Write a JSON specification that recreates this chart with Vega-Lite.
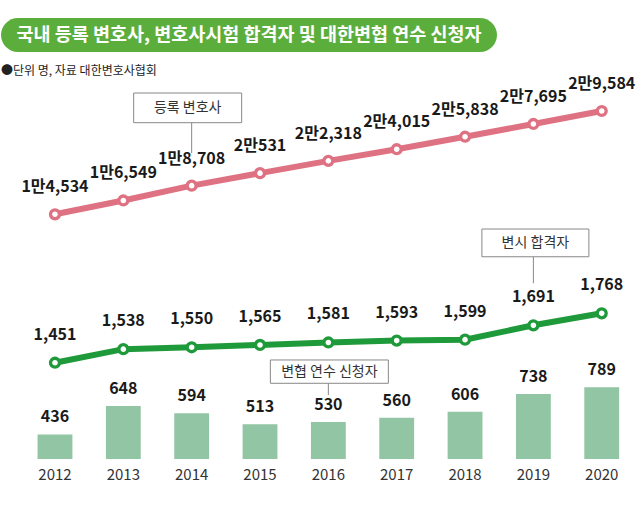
{
  "$schema": "https://vega.github.io/schema/vega-lite/v6.json",
  "padding": {"left": 1, "top": 18, "right": 3, "bottom": 0},
  "background": "white",
  "spacing": 13,
  "config": {"view": {"stroke": null}, "font": "Noto Sans CJK KR"},
  "vconcat": [
    {
      "width": 496,
      "height": 34,
      "data": {"values": [{"title": "국내 등록 변호사, 변호사시험 합격자 및 대한변협 연수 신청자"}]},
      "layer": [
        {"mark": {"type": "rect", "color": "#5CAE3C", "cornerRadius": 17}, "encoding": {}},
        {"mark": {"type": "text", "color": "white", "fontSize": 18.5, "fontWeight": "bold", "font": "Noto Sans CJK KR", "baseline": "middle"}, "encoding": {"text": {"field": "title"}}}
      ]
    },
    {
      "width": 636,
      "height": 379,
      "title": {"text": "●단위 명, 자료 대한변호사협회", "anchor": "start", "fontSize": 12, "fontWeight": "normal", "color": "#222", "offset": -2.5, "font": "Noto Sans CJK KR"},
      "data": {"values": [
        {"year": "2012", "lawyers": 14534, "lawyersLabel": "1만4,534", "passers": 1451, "trainees": 436},
        {"year": "2013", "lawyers": 16549, "lawyersLabel": "1만6,549", "passers": 1538, "trainees": 648},
        {"year": "2014", "lawyers": 18708, "lawyersLabel": "1만8,708", "passers": 1550, "trainees": 594},
        {"year": "2015", "lawyers": 20531, "lawyersLabel": "2만531", "passers": 1565, "trainees": 513},
        {"year": "2016", "lawyers": 22318, "lawyersLabel": "2만2,318", "passers": 1581, "trainees": 530},
        {"year": "2017", "lawyers": 24015, "lawyersLabel": "2만4,015", "passers": 1593, "trainees": 560},
        {"year": "2018", "lawyers": 25838, "lawyersLabel": "2만5,838", "passers": 1599, "trainees": 606},
        {"year": "2019", "lawyers": 27695, "lawyersLabel": "2만7,695", "passers": 1691, "trainees": 738},
        {"year": "2020", "lawyers": 29584, "lawyersLabel": "2만9,584", "passers": 1768, "trainees": 789}
      ]},
      "layer": [
        {
          "mark": {"type": "bar", "color": "#92C5A4"},
          "encoding": {
            "x": {"field": "year", "type": "ordinal", "scale": {"type": "band", "paddingInner": 0.49, "paddingOuter": 0.398, "align": 0.672},
                  "axis": {"title": null, "domain": false, "ticks": false, "labelAngle": 0, "labelFontSize": 15, "labelColor": "#333", "labelPadding": 8, "labelFont": "Noto Sans CJK KR", "labelFontWeight": "normal"}},
            "y": {"field": "trainees", "type": "quantitative", "scale": {"domain": [252.6, 3085], "zero": false}, "axis": null},
            "y2": {"datum": 252.6}
          }
        },
        {
          "mark": {"type": "text", "dy": -17, "fontSize": 16, "fontWeight": "bold", "color": "#1a1a1a", "baseline": "middle"},
          "encoding": {
            "x": {"field": "year", "type": "ordinal"},
            "y": {"field": "trainees", "type": "quantitative", "scale": {"domain": [252.6, 3085], "zero": false}, "axis": null},
            "text": {"field": "trainees", "type": "quantitative", "format": "d"}
          }
        },
        {
          "data": {"values": [{"year": "2016", "label": "변협 연수 신청자"}]},
          "mark": {"type": "rule", "color": "#888", "strokeWidth": 1},
          "encoding": {
            "x": {"field": "year", "type": "ordinal"},
            "y": {"datum": 818.4, "type": "quantitative", "scale": {"domain": [252.6, 3085], "zero": false}, "axis": null},
            "y2": {"datum": 730.9}
          }
        },
        {
          "data": {"values": [{"year": "2016", "label": "변협 연수 신청자"}]},
          "mark": {"type": "bar", "width": 118, "fill": "white", "stroke": "#888", "strokeWidth": 1, "xOffset": 1},
          "encoding": {
            "x": {"field": "year", "type": "ordinal"},
            "y": {"datum": 992.6, "type": "quantitative", "scale": {"domain": [252.6, 3085], "zero": false}, "axis": null},
            "y2": {"datum": 818.4}
          }
        },
        {
          "data": {"values": [{"year": "2016", "label": "변협 연수 신청자"}]},
          "mark": {"type": "text", "fontSize": 14, "color": "#333", "baseline": "middle", "xOffset": 1},
          "encoding": {
            "x": {"field": "year", "type": "ordinal"},
            "y": {"datum": 905, "type": "quantitative", "scale": {"domain": [252.6, 3085], "zero": false}, "axis": null},
            "text": {"field": "label"}
          }
        },
        {
          "mark": {"type": "line", "color": "#1F9A3B", "strokeWidth": 6},
          "encoding": {
            "x": {"field": "year", "type": "ordinal"},
            "y": {"field": "passers", "type": "quantitative", "scale": {"domain": [833, 3265.5], "zero": false}, "axis": null}
          }
        },
        {
          "mark": {"type": "circle", "fill": "white", "stroke": "#1F9A3B", "strokeWidth": 3.3, "size": 80, "opacity": 1},
          "encoding": {
            "x": {"field": "year", "type": "ordinal"},
            "y": {"field": "passers", "type": "quantitative", "scale": {"domain": [833, 3265.5], "zero": false}, "axis": null}
          }
        },
        {
          "mark": {"type": "text", "dy": -28, "fontSize": 16, "fontWeight": "bold", "color": "#1a1a1a", "baseline": "middle"},
          "encoding": {
            "x": {"field": "year", "type": "ordinal"},
            "y": {"field": "passers", "type": "quantitative", "scale": {"domain": [833, 3265.5], "zero": false}, "axis": null},
            "text": {"field": "passers", "type": "quantitative", "format": ","}
          }
        },
        {
          "data": {"values": [{"year": "2019", "label": "변시 합격자"}]},
          "mark": {"type": "rule", "color": "#888", "strokeWidth": 1},
          "encoding": {
            "x": {"field": "year", "type": "ordinal"},
            "y": {"datum": 2131, "type": "quantitative", "scale": {"domain": [833, 3265.5], "zero": false}, "axis": null},
            "y2": {"datum": 1960.6}
          }
        },
        {
          "data": {"values": [{"year": "2019", "label": "변시 합격자"}]},
          "mark": {"type": "bar", "width": 107, "fill": "white", "stroke": "#888", "strokeWidth": 1, "xOffset": 2},
          "encoding": {
            "x": {"field": "year", "type": "ordinal"},
            "y": {"datum": 2309, "type": "quantitative", "scale": {"domain": [833, 3265.5], "zero": false}, "axis": null},
            "y2": {"datum": 2131}
          }
        },
        {
          "data": {"values": [{"year": "2019", "label": "변시 합격자"}]},
          "mark": {"type": "text", "fontSize": 14, "color": "#333", "baseline": "middle", "xOffset": 2},
          "encoding": {
            "x": {"field": "year", "type": "ordinal"},
            "y": {"datum": 2219, "type": "quantitative", "scale": {"domain": [833, 3265.5], "zero": false}, "axis": null},
            "text": {"field": "label"}
          }
        },
        {
          "mark": {"type": "line", "color": "#DF7282", "strokeWidth": 6},
          "encoding": {
            "x": {"field": "year", "type": "ordinal"},
            "y": {"field": "lawyers", "type": "quantitative", "scale": {"domain": [-21116, 34100], "zero": false}, "axis": null}
          }
        },
        {
          "mark": {"type": "circle", "fill": "white", "stroke": "#DF7282", "strokeWidth": 3.3, "size": 80, "opacity": 1},
          "encoding": {
            "x": {"field": "year", "type": "ordinal"},
            "y": {"field": "lawyers", "type": "quantitative", "scale": {"domain": [-21116, 34100], "zero": false}, "axis": null}
          }
        },
        {
          "mark": {"type": "text", "dy": -27, "fontSize": 16, "fontWeight": "bold", "color": "#1a1a1a", "baseline": "middle"},
          "encoding": {
            "x": {"field": "year", "type": "ordinal"},
            "y": {"field": "lawyers", "type": "quantitative", "scale": {"domain": [-21116, 34100], "zero": false}, "axis": null},
            "text": {"field": "lawyersLabel"}
          }
        },
        {
          "data": {"values": [{"year": "2014", "label": "등록 변호사"}]},
          "mark": {"type": "rule", "color": "#888", "strokeWidth": 1},
          "encoding": {
            "x": {"field": "year", "type": "ordinal"},
            "y": {"datum": 27879, "type": "quantitative", "scale": {"domain": [-21116, 34100], "zero": false}, "axis": null},
            "y2": {"datum": 23465}
          }
        },
        {
          "data": {"values": [{"year": "2014", "label": "등록 변호사"}]},
          "mark": {"type": "bar", "width": 108, "fill": "white", "stroke": "#888", "strokeWidth": 1, "xOffset": -4},
          "encoding": {
            "x": {"field": "year", "type": "ordinal"},
            "y": {"datum": 32206, "type": "quantitative", "scale": {"domain": [-21116, 34100], "zero": false}, "axis": null},
            "y2": {"datum": 27879}
          }
        },
        {
          "data": {"values": [{"year": "2014", "label": "등록 변호사"}]},
          "mark": {"type": "text", "fontSize": 14, "color": "#333", "baseline": "middle", "xOffset": -4},
          "encoding": {
            "x": {"field": "year", "type": "ordinal"},
            "y": {"datum": 30006, "type": "quantitative", "scale": {"domain": [-21116, 34100], "zero": false}, "axis": null},
            "text": {"field": "label"}
          }
        }
      ],
      "resolve": {"scale": {"y": "independent"}}
    }
  ]
}
